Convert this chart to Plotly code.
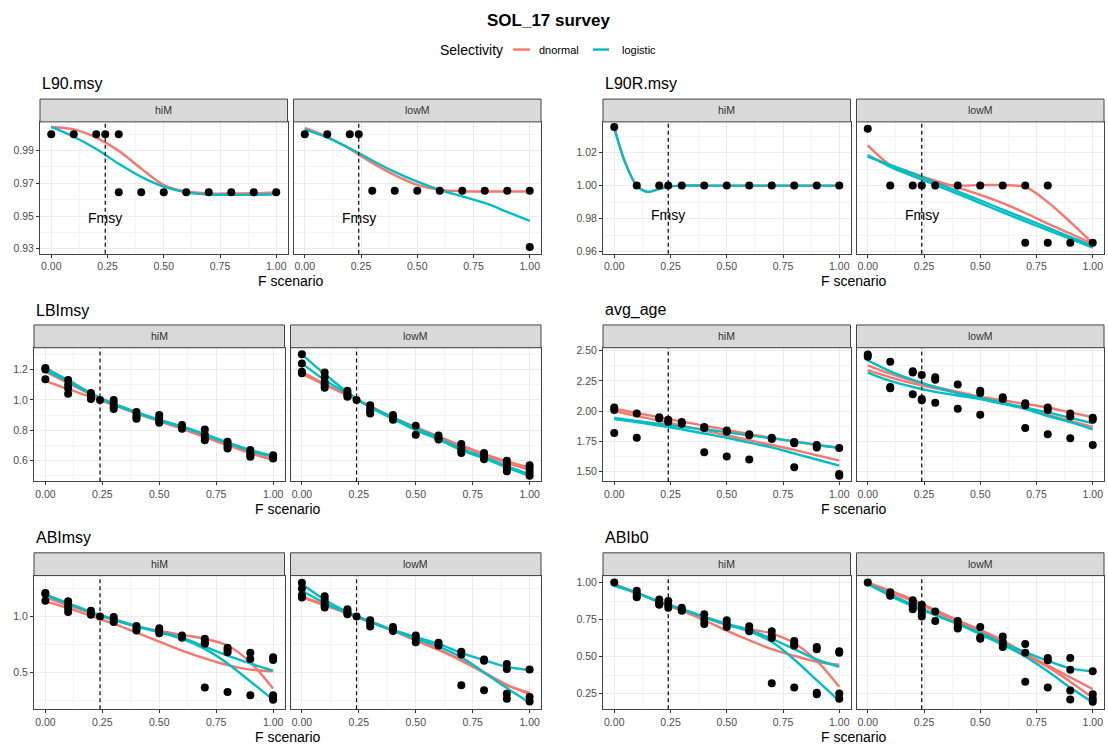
import plotly.graph_objects as go

W, H = 1108, 749
RED = "#F8766D"
TEAL = "#00BFC4"
FONT = "Liberation Sans, Arial, sans-serif"
FMSY = 0.24

# ---------------- data ----------------
F_GRID = [0.0, 0.1, 0.2, 0.3, 0.4, 0.5, 0.6, 0.7, 0.8, 0.9, 1.0]
F_FINE = [0.0, 0.05, 0.1, 0.15, 0.2, 0.25, 0.3, 0.4, 0.5, 0.6, 0.7, 0.8, 0.9, 1.0]
X_TICKS = [0.0, 0.25, 0.5, 0.75, 1.0]
FACETS = ["hiM", "lowM"]

# L90.msy
L90_HI_PTS = {0.0: [1.0], 0.1: [1.0], 0.2: [1.0], 0.24: [1.0], 0.3: [1.0, 0.9645], 0.4: [0.9645],
              0.5: [0.9645], 0.6: [0.9645], 0.7: [0.9645], 0.8: [0.9645], 0.9: [0.9645], 1.0: [0.9645]}
L90_HI_DN = [[1.0045, 1.003, 0.998, 0.990, 0.979, 0.969, 0.965, 0.9638, 0.9638, 0.964, 0.9645]]
L90_HI_LG = [[1.0045, 0.9985, 0.991, 0.982, 0.974, 0.968, 0.9645, 0.9632, 0.963, 0.963, 0.9633]]
L90_LO_PTS = {0.0: [1.0], 0.1: [1.0], 0.2: [1.0], 0.24: [1.0], 0.3: [0.9655], 0.4: [0.9655],
              0.5: [0.9655], 0.6: [0.9655], 0.7: [0.9655], 0.8: [0.9655], 0.9: [0.9655], 1.0: [0.9655, 0.931]}
L90_LO_DN = [[1.004, 0.9985, 0.991, 0.9825, 0.975, 0.969, 0.966, 0.9652, 0.965, 0.965, 0.965]]
L90_LO_LG = [[1.003, 0.998, 0.9915, 0.984, 0.977, 0.971, 0.966, 0.962, 0.958, 0.9525, 0.947]]

# L90R.msy
L90R_HI_PTS = {0.0: [1.0355], 0.1: [1.0], 0.2: [1.0], 0.24: [1.0], 0.3: [1.0], 0.4: [1.0], 0.5: [1.0],
               0.6: [1.0], 0.7: [1.0], 0.8: [1.0], 0.9: [1.0], 1.0: [1.0]}
L90R_HI_DN = [[1.035, 1.0135, 1.0, 0.9962, 0.998, 0.9995, 1.0, 1.0, 1.0, 1.0, 1.0, 1.0, 1.0, 1.0]]
L90R_HI_LG = [[1.035, 1.0135, 1.0, 0.9962, 0.998, 0.9995, 1.0, 1.0, 1.0, 1.0, 1.0, 1.0, 1.0, 1.0]]
L90R_LO_PTS = {0.0: [1.0345], 0.1: [1.0], 0.2: [1.0], 0.24: [1.0], 0.3: [1.0], 0.4: [1.0], 0.5: [1.0],
               0.6: [1.0], 0.7: [1.0, 0.9654], 0.8: [1.0, 0.9654], 0.9: [0.9654], 1.0: [0.9654]}
L90R_LO_DN = [[1.0244, 1.0124, 1.0064, 1.0015, 1.0, 1.0003, 1.0003, 0.9992, 0.990, 0.978, 0.965],
              [1.018, 1.012, 1.0074, 1.003, 0.9988, 0.9944, 0.9894, 0.9834, 0.977, 0.971, 0.9648]]
L90R_LO_LG = [[1.0185, 1.0114, 1.0058, 1.0004, 0.995, 0.9894, 0.9838, 0.9784, 0.973, 0.9678, 0.9624],
              [1.0175, 1.0125, 1.0075, 1.002, 0.9965, 0.991, 0.9855, 0.98, 0.9745, 0.969, 0.9635]]

# LBImsy
LBI_HI_PTS = {0.0: [1.21, 1.20, 1.135], 0.1: [1.13, 1.10, 1.075, 1.04], 0.2: [1.045, 1.03, 1.015, 1.005],
              0.24: [1.0], 0.3: [1.0, 0.98, 0.955, 0.94], 0.4: [0.92, 0.90, 0.885, 0.875],
              0.5: [0.90, 0.88, 0.86, 0.85], 0.6: [0.835, 0.82, 0.81], 0.7: [0.805, 0.77, 0.75, 0.735],
              0.8: [0.725, 0.71, 0.695, 0.68], 0.9: [0.67, 0.65, 0.635, 0.625], 1.0: [0.635, 0.625, 0.615]}
LBI_HI_DN = [[1.185, 1.11, 1.035, 0.97, 0.915, 0.865, 0.815, 0.76, 0.705, 0.655, 0.605],
             [1.125, 1.07, 1.02, 0.965, 0.91, 0.86, 0.81, 0.755, 0.70, 0.65, 0.605]]
LBI_HI_LG = [[1.21, 1.13, 1.045, 0.975, 0.92, 0.87, 0.825, 0.775, 0.72, 0.67, 0.63],
             [1.195, 1.12, 1.04, 0.97, 0.915, 0.865, 0.82, 0.77, 0.715, 0.665, 0.625]]
LBI_LO_PTS = {0.0: [1.30, 1.24, 1.185, 1.175], 0.1: [1.18, 1.15, 1.12, 1.10, 1.08], 0.2: [1.06, 1.045, 1.03, 1.02],
              0.24: [1.0], 0.3: [0.965, 0.945, 0.925, 0.91], 0.4: [0.90, 0.885, 0.87], 0.5: [0.83, 0.77],
              0.6: [0.765, 0.75, 0.74], 0.7: [0.71, 0.685, 0.665, 0.65], 0.8: [0.65, 0.635, 0.62, 0.61],
              0.9: [0.60, 0.575, 0.55, 0.53], 1.0: [0.57, 0.55, 0.525, 0.50]}
LBI_LO_DN = [[1.17, 1.10, 1.03, 0.96, 0.885, 0.82, 0.76, 0.70, 0.645, 0.595, 0.555],
             [1.185, 1.105, 1.03, 0.955, 0.88, 0.815, 0.755, 0.695, 0.64, 0.585, 0.54]]
LBI_LO_LG = [[1.30, 1.17, 1.05, 0.95, 0.875, 0.80, 0.74, 0.67, 0.615, 0.555, 0.50],
             [1.24, 1.13, 1.04, 0.955, 0.885, 0.815, 0.75, 0.68, 0.625, 0.565, 0.51]]

# avg_age
AGE_HI_PTS = {0.0: [2.03, 2.01, 1.82], 0.1: [1.98, 1.78], 0.2: [1.95, 1.94], 0.24: [1.93, 1.91],
              0.3: [1.91, 1.895], 0.4: [1.87, 1.86, 1.66], 0.5: [1.84, 1.83, 1.625], 0.6: [1.81, 1.80, 1.60],
              0.7: [1.78, 1.77], 0.8: [1.745, 1.735, 1.535], 0.9: [1.72, 1.70], 1.0: [1.695, 1.48, 1.465]}
AGE_HI_DN = [[2.02, 1.985, 1.95, 1.915, 1.88, 1.845, 1.81, 1.78, 1.75, 1.72, 1.70],
             [2.00, 1.96, 1.92, 1.88, 1.84, 1.80, 1.76, 1.72, 1.68, 1.635, 1.59]]
AGE_HI_LG = [[1.945, 1.92, 1.895, 1.87, 1.85, 1.825, 1.80, 1.775, 1.75, 1.72, 1.695],
             [1.935, 1.91, 1.88, 1.85, 1.815, 1.78, 1.74, 1.70, 1.65, 1.60, 1.55]]
AGE_LO_PTS = {0.0: [2.47, 2.45], 0.1: [2.41, 2.20, 2.19], 0.2: [2.33, 2.32, 2.14], 0.24: [2.30, 2.10, 2.09],
              0.3: [2.28, 2.26, 2.07], 0.4: [2.22, 2.02], 0.5: [2.17, 2.15, 1.97], 0.6: [2.115, 2.10],
              0.7: [2.065, 2.05, 1.86], 0.8: [2.03, 2.01, 1.81], 0.9: [1.98, 1.955, 1.775], 1.0: [1.945, 1.93, 1.72]}
AGE_LO_DN = [[2.38, 2.31, 2.25, 2.20, 2.16, 2.12, 2.09, 2.06, 2.03, 1.99, 1.95],
             [2.34, 2.28, 2.23, 2.19, 2.15, 2.11, 2.07, 2.02, 1.97, 1.92, 1.87]]
AGE_LO_LG = [[2.42, 2.33, 2.26, 2.20, 2.15, 2.11, 2.07, 2.03, 1.99, 1.945, 1.90],
             [2.32, 2.25, 2.20, 2.16, 2.13, 2.10, 2.06, 2.02, 1.96, 1.91, 1.85]]

# ABImsy
ABI_HI_PTS = {0.0: [1.21, 1.20, 1.14], 0.1: [1.135, 1.10, 1.07, 1.04], 0.2: [1.05, 1.03, 1.015], 0.24: [1.0],
              0.3: [0.995, 0.97, 0.95], 0.4: [0.915, 0.89, 0.875], 0.5: [0.895, 0.87, 0.85], 0.6: [0.83, 0.81],
              0.7: [0.80, 0.77, 0.755, 0.365], 0.8: [0.72, 0.70, 0.68, 0.325], 0.9: [0.675, 0.62, 0.295],
              1.0: [0.635, 0.61, 0.295, 0.27, 0.255]}
ABI_HI_DN = [[1.17, 1.10, 1.03, 0.97, 0.91, 0.87, 0.835, 0.80, 0.74, 0.59, 0.355],
             [1.135, 1.075, 1.005, 0.935, 0.855, 0.775, 0.695, 0.625, 0.565, 0.525, 0.51]]
ABI_HI_LG = [[1.195, 1.12, 1.04, 0.975, 0.915, 0.86, 0.81, 0.73, 0.65, 0.58, 0.515],
             [1.19, 1.115, 1.035, 0.97, 0.91, 0.86, 0.80, 0.71, 0.58, 0.42, 0.255]]
ABI_LO_PTS = {0.0: [1.30, 1.25, 1.19, 1.17], 0.1: [1.18, 1.15, 1.12, 1.10, 1.08], 0.2: [1.065, 1.045, 1.03, 1.02],
              0.24: [1.0], 0.3: [0.965, 0.94, 0.91], 0.4: [0.905, 0.885, 0.87], 0.5: [0.83, 0.80, 0.77],
              0.6: [0.765, 0.74], 0.7: [0.685, 0.66, 0.385], 0.8: [0.615, 0.605, 0.34],
              0.9: [0.575, 0.53, 0.31, 0.265], 1.0: [0.525, 0.28, 0.24]}
ABI_LO_DN = [[1.17, 1.10, 1.03, 0.955, 0.875, 0.79, 0.705, 0.61, 0.50, 0.39, 0.305],
             [1.18, 1.105, 1.03, 0.95, 0.87, 0.785, 0.70, 0.605, 0.495, 0.385, 0.32]]
ABI_LO_LG = [[1.29, 1.15, 1.04, 0.955, 0.88, 0.815, 0.755, 0.675, 0.61, 0.55, 0.52],
             [1.23, 1.12, 1.03, 0.95, 0.875, 0.80, 0.73, 0.635, 0.50, 0.36, 0.23]]

# ABIb0
B0_HI_PTS = {0.0: [1.0], 0.1: [0.945, 0.925, 0.91, 0.90], 0.2: [0.885, 0.87, 0.855, 0.85], 0.24: [0.875, 0.85, 0.83],
             0.3: [0.83, 0.815, 0.81], 0.4: [0.785, 0.75, 0.72], 0.5: [0.745, 0.72, 0.70], 0.6: [0.705, 0.68, 0.67],
             0.7: [0.67, 0.64, 0.625, 0.32], 0.8: [0.605, 0.585, 0.575, 0.29], 0.9: [0.565, 0.55, 0.255, 0.245],
             1.0: [0.535, 0.525, 0.25, 0.215]}
B0_HI_DN = [[0.99, 0.93, 0.87, 0.82, 0.765, 0.715, 0.685, 0.655, 0.59, 0.47, 0.295],
            [0.99, 0.93, 0.87, 0.81, 0.745, 0.675, 0.61, 0.55, 0.505, 0.465, 0.445]]
B0_HI_LG = [[0.98, 0.93, 0.87, 0.82, 0.77, 0.72, 0.68, 0.62, 0.55, 0.48, 0.43],
            [0.98, 0.93, 0.87, 0.82, 0.765, 0.715, 0.67, 0.60, 0.48, 0.34, 0.20]]
B0_LO_PTS = {0.0: [1.0], 0.1: [0.935, 0.92, 0.91], 0.2: [0.88, 0.86, 0.84, 0.82], 0.24: [0.85, 0.82, 0.79, 0.77],
             0.3: [0.805, 0.74], 0.4: [0.74, 0.72, 0.70, 0.69], 0.5: [0.70, 0.63, 0.62],
             0.6: [0.635, 0.60, 0.58, 0.565], 0.7: [0.585, 0.525, 0.33], 0.8: [0.49, 0.475, 0.29],
             0.9: [0.49, 0.41, 0.27, 0.21], 1.0: [0.40, 0.245, 0.215, 0.195]}
B0_LO_DN = [[1.0, 0.945, 0.885, 0.815, 0.745, 0.68, 0.61, 0.52, 0.44, 0.36, 0.28],
            [0.995, 0.935, 0.875, 0.805, 0.735, 0.67, 0.60, 0.51, 0.43, 0.33, 0.22]]
B0_LO_LG = [[0.99, 0.91, 0.84, 0.78, 0.72, 0.66, 0.59, 0.53, 0.47, 0.42, 0.40],
            [0.99, 0.92, 0.85, 0.785, 0.72, 0.65, 0.58, 0.50, 0.40, 0.29, 0.19]]

# metric: title, y ticks, y format, y range, y minor ticks, Fmsy label y, row, side,
#         facets (line x grid, points, dnormal curves, logistic curves)
METRICS = [
    ("L90.msy", [0.93, 0.95, 0.97, 0.99], ".2f", [0.927, 1.0076], [0.94, 0.96, 0.98, 1.0], 0.949, 1, "L",
     [(F_GRID, L90_HI_PTS, L90_HI_DN, L90_HI_LG), (F_GRID, L90_LO_PTS, L90_LO_DN, L90_LO_LG)]),
    ("L90R.msy", [0.96, 0.98, 1.00, 1.02], ".2f", [0.9588, 1.0386], [0.97, 0.99, 1.01, 1.03], 0.9825, 1, "R",
     [(F_FINE, L90R_HI_PTS, L90R_HI_DN, L90R_HI_LG), (F_GRID, L90R_LO_PTS, L90R_LO_DN, L90R_LO_LG)]),
    ("LBImsy", [0.6, 0.8, 1.0, 1.2], ".1f", [0.463, 1.343], [0.5, 0.7, 0.9, 1.1, 1.3], None, 2, "L",
     [(F_GRID, LBI_HI_PTS, LBI_HI_DN, LBI_HI_LG), (F_GRID, LBI_LO_PTS, LBI_LO_DN, LBI_LO_LG)]),
    ("avg_age", [1.5, 1.75, 2.0, 2.25, 2.5], ".2f", [1.418, 2.525], [1.625, 1.875, 2.125, 2.375], None, 2, "R",
     [(F_GRID, AGE_HI_PTS, AGE_HI_DN, AGE_HI_LG), (F_GRID, AGE_LO_PTS, AGE_LO_DN, AGE_LO_LG)]),
    ("ABImsy", [0.5, 1.0], ".1f", [0.17, 1.365], [0.25, 0.75, 1.25], None, 3, "L",
     [(F_GRID, ABI_HI_PTS, ABI_HI_DN, ABI_HI_LG), (F_GRID, ABI_LO_PTS, ABI_LO_DN, ABI_LO_LG)]),
    ("ABIb0", [0.25, 0.5, 0.75, 1.0], ".2f", [0.143, 1.047], [0.375, 0.625, 0.875], None, 3, "R",
     [(F_GRID, B0_HI_PTS, B0_HI_DN, B0_HI_LG), (F_GRID, B0_LO_PTS, B0_LO_DN, B0_LO_LG)]),
]

# ---------------- layout geometry (pixels) ----------------
ROWS = {1: (97, 120, 253, 81, 281), 2: (325, 348, 483, 310, 511), 3: (555, 578, 713, 540, 741)}
LEFT_FACETS = {1: [(40, 287.5), (293.5, 541)], 2: [(34, 284.5), (290.5, 541)], 3: [(34, 284.5), (290.5, 541)]}
RIGHT_FACETS = [(603, 850.5), (856.5, 1104)]


def fx(p):
    return p / W


def fy(p):
    return 1 - p / H


def note(x, y, text, size, color="black", xanchor="center"):
    return dict(x=fx(x), y=fy(y), xref="paper", yref="paper", text=text, showarrow=False,
                xanchor=xanchor, yanchor="middle", font=dict(size=size, color=color, family=FONT))


fig = go.Figure()
layout = {}
shapes = []
annotations = []

k = 0
for (title, yt, yfmt, yr, ymin, fm_y, row, side, facets) in METRICS:
    s_top, p_top, p_bot, t_y, xt_y = ROWS[row]
    cols = LEFT_FACETS[row] if side == "L" else RIGHT_FACETS
    for fi, (line_x, pts, dn, lg) in enumerate(facets):
        k += 1
        xa = "x" if k == 1 else f"x{k}"
        ya = "y" if k == 1 else f"y{k}"
        x0, x1 = cols[fi]
        layout["xaxis" if k == 1 else f"xaxis{k}"] = dict(
            domain=[fx(x0), fx(x1)], anchor=ya, range=[-0.05, 1.05],
            tickmode="array", tickvals=X_TICKS, ticktext=[f"{v:.2f}" for v in X_TICKS],
            ticks="outside", ticklen=3, tickcolor="#333333", tickwidth=1,
            tickfont=dict(size=10.5, color="#4D4D4D", family=FONT),
            showgrid=True, gridcolor="#EBEBEB", gridwidth=1,
            minor=dict(tickvals=[0.125, 0.375, 0.625, 0.875], showgrid=True, gridcolor="#F4F4F4",
                       gridwidth=0.6, ticks=""),
            showline=True, mirror=True, linecolor="#444444", linewidth=1, zeroline=False,
        )
        layout["yaxis" if k == 1 else f"yaxis{k}"] = dict(
            domain=[fy(p_bot), fy(p_top)], anchor=xa, range=yr,
            tickmode="array", tickvals=yt, ticktext=[format(v, yfmt) for v in yt],
            ticks="outside" if fi == 0 else "", ticklen=3, tickcolor="#333333", tickwidth=1,
            showticklabels=(fi == 0),
            tickfont=dict(size=10.5, color="#4D4D4D", family=FONT),
            showgrid=True, gridcolor="#EBEBEB", gridwidth=1,
            minor=dict(tickvals=ymin, showgrid=True, gridcolor="#F4F4F4", gridwidth=0.6, ticks=""),
            showline=True, mirror=True, linecolor="#444444", linewidth=1, zeroline=False,
        )
        # smooth lines
        for ys in dn:
            fig.add_trace(go.Scatter(x=line_x, y=ys, mode="lines", xaxis=xa, yaxis=ya,
                                     line=dict(color=RED, width=2.4, shape="spline", smoothing=0.9),
                                     showlegend=False, hoverinfo="skip"))
        for ys in lg:
            fig.add_trace(go.Scatter(x=line_x, y=ys, mode="lines", xaxis=xa, yaxis=ya,
                                     line=dict(color=TEAL, width=2.4, shape="spline", smoothing=0.9),
                                     showlegend=False, hoverinfo="skip"))
        # points
        px_, py_ = [], []
        for xv, yl in pts.items():
            for yv in yl:
                px_.append(xv)
                py_.append(yv)
        fig.add_trace(go.Scatter(x=px_, y=py_, mode="markers", xaxis=xa, yaxis=ya,
                                 marker=dict(color="black", size=8, line=dict(width=0)),
                                 showlegend=False))
        # Fmsy dashed line
        shapes.append(dict(type="line", xref=xa, yref=f"{ya} domain", x0=FMSY, x1=FMSY, y0=0, y1=1,
                           line=dict(color="black", width=1.2, dash="4px,3px")))
        if fm_y is not None:
            annotations.append(dict(x=FMSY, y=fm_y, xref=xa, yref=ya, text="Fmsy", showarrow=False,
                                    xanchor="center", yanchor="middle",
                                    font=dict(size=14, color="black", family=FONT)))
        # strip
        shapes.append(dict(type="rect", xref="paper", yref="paper", x0=fx(x0), x1=fx(x1), y0=fy(p_top),
                           y1=fy(s_top), fillcolor="#D9D9D9", line=dict(color="#444444", width=1), layer="above"))
        annotations.append(note((x0 + x1) / 2, (s_top + p_top) / 2, FACETS[fi], 10.5, "#333333"))
    # panel title
    annotations.append(note(cols[0][0], t_y, title, 16, xanchor="left"))
    # x-axis title
    annotations.append(note((cols[0][0] + cols[1][1]) / 2, xt_y, "F scenario", 14))

# main title and legend
annotations.append(note(548, 18, "<b>SOL_17 survey</b>", 17))
annotations.append(note(438, 47, "Selectivity", 14, xanchor="left"))
annotations.append(note(537, 47, "dnormal", 11, xanchor="left"))
annotations.append(note(620, 47, "logistic", 11, xanchor="left"))
shapes.append(dict(type="line", xref="paper", yref="paper", x0=fx(513), x1=fx(530), y0=fy(47), y1=fy(47),
                   line=dict(color=RED, width=2.4)))
shapes.append(dict(type="line", xref="paper", yref="paper", x0=fx(593), x1=fx(609), y0=fy(47), y1=fy(47),
                   line=dict(color=TEAL, width=2.4)))

fig.update_layout(
    width=W, height=H, margin=dict(l=0, r=0, t=0, b=0),
    paper_bgcolor="white", plot_bgcolor="white",
    font=dict(family=FONT), showlegend=False,
    shapes=shapes, annotations=annotations, **layout,
)

fig.write_html("out.html", config={"displayModeBar": False},
               post_script="document.body.style.margin='0';document.body.style.overflow='hidden';")
